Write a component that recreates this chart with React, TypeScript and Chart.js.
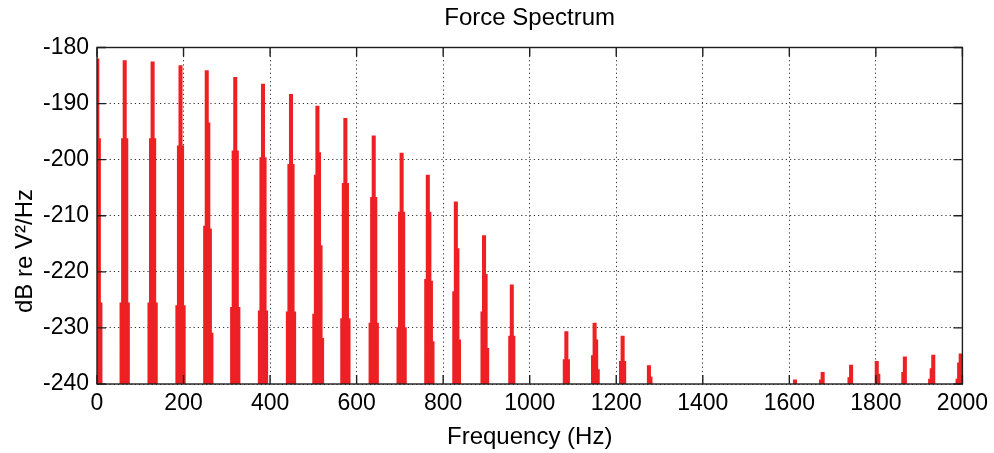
import React, { useEffect, useRef } from 'react';
import { Chart, registerables } from 'chart.js';

Chart.register(...registerables);

// ---- text ----
const TITLE = 'Force Spectrum';
const X_LABEL = 'Frequency (Hz)';
const Y_LABEL = 'dB re V²/Hz';

// ---- axes ----
const X_MIN = 0;
const X_MAX = 2000;
const X_STEP = 200;
const Y_MIN = -240;
const Y_MAX = -180;
const Y_STEP = 10;

// ---- spectrum data (harmonic clusters) ----
// centre frequency (Hz) of each harmonic line
const harmonicFreqs = [
  0.7, 64, 128.5, 193, 253.6, 319.5, 383.6, 448.3, 509.4, 574, 639.5, 704,
  764.5, 829.3, 894.5, 958.6, 1084.7, 1150, 1214.7, 1275.5, 1613, 1677,
  1742.7, 1802, 1867, 1932.6, 1996,
];
// level of the peak bin (dB)
const peakLevels = [
  -182.2, -182.5, -182.7, -183.4, -184.3, -185.5, -186.7, -188.5, -190.6,
  -192.8, -195.9, -199.0, -202.9, -207.7, -213.7, -222.5, -230.8, -229.3,
  -231.6, -236.9, -239.4, -238.1, -236.8, -236.1, -235.3, -235.0, -234.8,
];
// neighbouring bins below the peak frequency (inner -> outer), dB
const leftLevels = [
  [], [-196.4, -225.7], [-196.4, -225.7], [-197.7, -226.2], [-212.0],
  [-198.6, -226.5], [-199.8, -227.1], [-201.0, -227.3], [-202.9, -227.7],
  [-204.4, -228.5], [-206.9, -229.3], [-209.5, -230.1], [-221.5], [-223.7],
  [-227.3], [-231.6], [-235.8], [-235.1], [-236.1], [], [], [-239.4],
  [-239.0], [], [-238.1], [-237.4, -239.3], [-236.4, -239.3],
];
// neighbouring bins above the peak frequency (inner -> outer), dB
const rightLevels = [
  [-196.4, -225.7], [-196.4, -225.7], [-196.4, -225.7], [-197.7, -226.2],
  [-193.6, -212.5, -231.1], [-198.6, -226.5], [-199.8, -227.1],
  [-201.0, -227.3], [-198.9, -215.5, -232.0], [-204.4, -228.5],
  [-206.9, -229.3], [-209.5, -230.1], [-209.5, -221.8, -232.6],
  [-216.0, -232.3], [-220.6, -233.8], [-231.6], [-235.8], [-232.3, -237.6],
  [-236.1], [-238.9], [], [], [], [-238.4], [], [], [],
];
const BIN_HZ = 3.6; // frequency resolution
const FLOOR_DB = -400; // noise floor, far below the axis

const FONT = '"Liberation Sans", Arial, Helvetica, sans-serif';
const RED = '#ed2024';

function buildSpectrum() {
  const pts: { x: number; y: number }[] = [];
  harmonicFreqs.forEach((f, i) => {
    const L = leftLevels[i];
    const R = rightLevels[i];
    pts.push({ x: f - (L.length + 1) * BIN_HZ, y: FLOOR_DB });
    for (let k = L.length - 1; k >= 0; k--) pts.push({ x: f - (k + 1) * BIN_HZ, y: L[k] });
    pts.push({ x: f, y: peakLevels[i] });
    R.forEach((v, k) => pts.push({ x: f + (k + 1) * BIN_HZ, y: v }));
    pts.push({ x: f + (R.length + 1) * BIN_HZ, y: FLOOR_DB });
  });
  return pts;
}

const frameTicksPlugin = {
  id: 'frameTicks',
  afterDatasetsDraw(chart: any) {
    const { ctx, chartArea: a, scales } = chart;
    const xs = scales.x;
    const ys = scales.y;
    const len = 9;
    ctx.save();
    ctx.strokeStyle = '#1e1e1e';
    ctx.lineWidth = 1.4;
    ctx.beginPath();
    xs.ticks.forEach((t: any) => {
      const px = xs.getPixelForValue(t.value);
      ctx.moveTo(px, a.bottom);
      ctx.lineTo(px, a.bottom - len);
      ctx.moveTo(px, a.top);
      ctx.lineTo(px, a.top + len);
    });
    ys.ticks.forEach((t: any) => {
      const py = ys.getPixelForValue(t.value);
      ctx.moveTo(a.left, py);
      ctx.lineTo(a.left + len, py);
      ctx.moveTo(a.right, py);
      ctx.lineTo(a.right - len, py);
    });
    ctx.stroke();
    ctx.strokeRect(a.left, a.top, a.right - a.left, a.bottom - a.top);
    ctx.restore();
  },
  afterDraw(chart: any) {
    const { ctx } = chart;
    ctx.save();
    ctx.translate(25, 251);
    ctx.rotate(-Math.PI / 2);
    ctx.fillStyle = '#000';
    ctx.font = `24px ${FONT}`;
    ctx.textAlign = 'center';
    ctx.textBaseline = 'middle';
    ctx.fillText(Y_LABEL, 0, 0);
    ctx.restore();
  },
};

export default function App() {
  const ref = useRef<HTMLCanvasElement | null>(null);
  useEffect(() => {
    if (!ref.current) return;
    const chart = new Chart(ref.current, {
      type: 'line',
      data: {
        datasets: [
          {
            data: buildSpectrum(),
            borderColor: RED,
            backgroundColor: RED,
            borderWidth: 2.5,
            borderJoinStyle: 'miter',
            stepped: 'middle',
            fill: 'start',
            pointRadius: 0,
            clip: 0,
          } as any,
        ],
      },
      options: {
        animation: false,
        responsive: false,
        maintainAspectRatio: false,
        events: [],
        layout: { padding: { left: 0, right: 28, top: 0, bottom: 0 } },
        plugins: {
          legend: { display: false },
          tooltip: { enabled: false },
          title: {
            display: true,
            fullSize: false,
            text: TITLE,
            color: '#000',
            font: { family: FONT, size: 24, weight: 'normal' },
            padding: { top: 4, bottom: 14.7 },
          },
        },
        scales: {
          x: {
            type: 'linear',
            min: X_MIN,
            max: X_MAX,
            afterFit: (s: any) => {
              s.height = 69;
            },
            ticks: {
              stepSize: X_STEP,
              autoSkip: false,
              maxRotation: 0,
              padding: 6,
              color: '#000',
              font: { family: FONT, size: 23 },
              callback: (v: any) => String(v),
            },
            grid: { color: '#333', lineWidth: 1, drawTicks: false },
            border: { display: false, dash: [1.2, 3] },
            title: {
              display: true,
              text: X_LABEL,
              color: '#000',
              font: { family: FONT, size: 24 },
              padding: { top: 0, bottom: 1 },
            },
          },
          y: {
            type: 'linear',
            min: Y_MIN,
            max: Y_MAX,
            afterFit: (s: any) => {
              s.width = 97;
            },
            ticks: {
              stepSize: Y_STEP,
              padding: 8,
              color: '#000',
              font: { family: FONT, size: 23 },
              callback: (v: any) => String(v),
            },
            grid: { color: '#333', lineWidth: 1, drawTicks: false },
            border: { display: false, dash: [1.2, 3] },
          },
        },
      },
      plugins: [frameTicksPlugin],
    });
    return () => chart.destroy();
  }, []);

  return (
    <div style={{ position: 'absolute', left: 0, top: 0, width: 994, height: 453, background: '#fff' }}>
      <canvas ref={ref} width={994} height={453} style={{ display: 'block' }} />
    </div>
  );
}
